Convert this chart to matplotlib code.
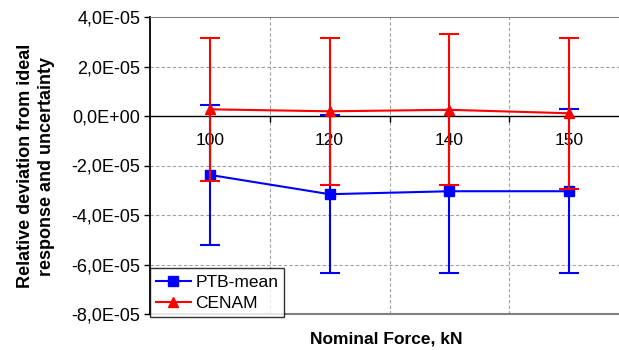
import matplotlib
matplotlib.use("Agg")
import matplotlib.pyplot as plt
from matplotlib.ticker import FuncFormatter, FixedLocator
from matplotlib.lines import Line2D

plt.rcParams['font.family'] = ['Liberation Sans', 'DejaVu Sans']

categories = ["100", "120", "140", "150"]
ptb_mean = [-2.38e-5, -3.16e-5, -3.04e-5, -3.04e-5]
ptb_unc = [2.82e-5, 3.20e-5, 3.30e-5, 3.32e-5]
cenam = [0.27e-5, 0.19e-5, 0.25e-5, 0.11e-5]
cenam_unc = [2.90e-5, 2.97e-5, 3.05e-5, 3.04e-5]
yticks = [-8e-5, -6e-5, -4e-5, -2e-5, 0, 2e-5, 4e-5]

fig = plt.figure(figsize=(6.19, 3.5), dpi=100)
ax = fig.add_axes([150/619, 36/350, 479/619, 297/350])

x = list(range(len(categories)))
ax.errorbar(x, ptb_mean, yerr=ptb_unc, color='#0000ff', marker='s', markersize=6.5,
            lw=1.5, elinewidth=1.5, capsize=7, capthick=1.5, zorder=3)
ax.errorbar(x, cenam, yerr=cenam_unc, color='#ff0000', marker='^', markersize=7.5,
            lw=1.5, elinewidth=1.5, capsize=7, capthick=1.5, zorder=4)

ax.set_xlim(-0.5, 3.5)
ax.set_ylim(-8e-5, 4e-5)

def fmt(v, pos):
    if abs(v) < 1e-12:
        return "0,0E+00"
    s = "%.1E" % v
    return s.replace('.', ',')

ax.yaxis.set_major_locator(FixedLocator(yticks))
ax.yaxis.set_major_formatter(FuncFormatter(fmt))
ax.tick_params(axis='y', direction='out', length=4, width=1, labelsize=13, pad=3, colors='black')

# x axis at zero
ax.spines['bottom'].set_position(('data', 0))
ax.spines['bottom'].set_color('black')
ax.spines['bottom'].set_linewidth(1)
ax.xaxis.set_major_locator(FixedLocator([0.5, 1.5, 2.5]))
ax.xaxis.set_minor_locator(FixedLocator(x))
ax.xaxis.set_major_formatter(FuncFormatter(lambda v, p: ""))
ax.xaxis.set_minor_formatter(FuncFormatter(lambda v, p: categories[int(round(v))]))
ax.tick_params(axis='x', which='major', direction='out', length=4, width=1)
ax.tick_params(axis='x', which='minor', length=0, labelsize=12.5, pad=12)

ax.spines['left'].set_color('black')
ax.spines['left'].set_linewidth(1.3)
ax.spines['top'].set_color('#808080')
ax.spines['right'].set_color('#808080')
ax.axhline(-8e-5, color='#808080', lw=1.5, clip_on=False, zorder=1)

for yv in yticks[1:-1]:
    if yv != 0:
        ax.axhline(yv, color='#a0a0a0', lw=0.8, ls=(0, (3, 2)), zorder=0)
for xv in [0.5, 1.5, 2.5]:
    ax.axvline(xv, color='#a0a0a0', lw=0.8, ls=(0, (3, 2)), zorder=0)

fig.text(36/619, 1 - 166/350, "Relative deviation from ideal\nresponse and uncertainty",
         fontsize=13, fontweight='bold', linespacing=1.35, rotation=90,
         ha='center', va='center')

fig.text(386/619, 1 - 339/350, "Nominal Force, kN", fontsize=12.5, fontweight='bold',
         ha='center', va='center')

handles = [Line2D([], [], color='#0000ff', marker='s', markersize=6.5, lw=1.5),
           Line2D([], [], color='#ff0000', marker='^', markersize=7.5, lw=1.5)]
leg = ax.legend(handles, ['PTB-mean', 'CENAM'], loc='lower left', bbox_to_anchor=(0.0, -0.01),
                frameon=True, fancybox=False, edgecolor='black', fontsize=12.5,
                handlelength=2.0, borderpad=0.35, labelspacing=0.35, handletextpad=0.25,
                borderaxespad=0)
leg.get_frame().set_linewidth(1)

fig.savefig("out.png", dpi=100)
